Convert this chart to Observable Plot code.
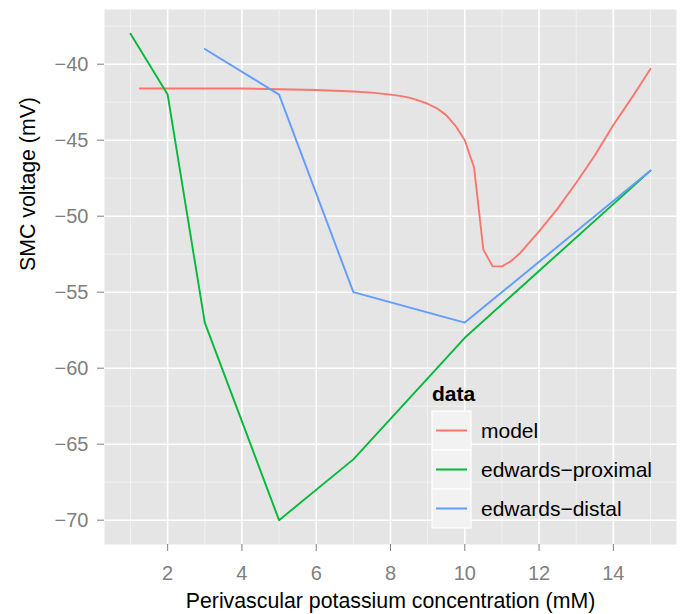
<!DOCTYPE html>
<html><head><meta charset="utf-8">
<script src="https://cdn.jsdelivr.net/npm/d3@7"></script>
<script src="https://cdn.jsdelivr.net/npm/@observablehq/plot@0.6"></script>
<style>
body{margin:0;background:white;font-family:"Liberation Sans",Arial,Helvetica,sans-serif}
#wrap{position:relative;width:681px;height:614px}
#legend{position:absolute;left:0;top:0;pointer-events:none}
</style></head><body><div id="wrap"></div>
<script>
const series = ["model", "edwards-proximal", "edwards-distal"];
const seriesLabels = ["model", "edwards\u2212proximal", "edwards\u2212distal"];
const colors = ["#F8766D", "#00BA38", "#619CFF"];

const modelX = [1.25, 2, 3, 4, 5, 6, 7, 7.5, 8, 8.25, 8.5, 8.75, 9, 9.25, 9.5, 9.75, 10, 10.25, 10.5, 10.75, 11, 11.25, 11.5, 12, 12.5, 13, 13.5, 14, 14.5, 15];
const modelY = [-41.6, -41.6, -41.6, -41.6, -41.65, -41.7, -41.8, -41.87, -42.0, -42.08, -42.2, -42.38, -42.6, -42.9, -43.35, -44.05, -45.0, -46.8, -52.2, -53.3, -53.3, -52.95, -52.4, -51.0, -49.5, -47.8, -46.0, -44.0, -42.2, -40.3];
const proximalX = [1, 2, 3, 5, 7, 10, 15];
const proximalY = [-38, -42, -57, -70, -66, -58, -47];
const distalX = [3, 5, 7, 10, 15];
const distalY = [-39, -42, -55, -57, -47];

const xTicks = [2, 4, 6, 8, 10, 12, 14];
const xMinor = [1, 3, 5, 7, 9, 11, 13, 15];
const yTicks = [-40, -45, -50, -55, -60, -65, -70];
const yMinor = [-37.5, -42.5, -47.5, -52.5, -57.5, -62.5, -67.5];

const xLabel = "Perivascular potassium concentration (mM)";
const yLabel = "SMC voltage (mV)";
const legendTitle = "data";

const rows = [];
[[modelX, modelY], [proximalX, proximalY], [distalX, distalY]].forEach(([xs, ys], i) => {
  xs.forEach((x, j) => rows.push({series: series[i], x, y: ys[j]}));
});

const fmt = d3.format("d");

const chart = Plot.plot({
  width: 681,
  height: 614,
  marginLeft: 104,
  marginRight: 5,
  marginTop: 9,
  marginBottom: 70,
  style: {fontFamily: "'Liberation Sans', Arial, Helvetica, sans-serif", background: "white"},
  x: {domain: [0.3, 15.7]},
  y: {domain: [-71.6, -36.4]},
  color: {domain: series, range: colors},
  marks: [
    Plot.frame({fill: "#e5e5e5", stroke: "none"}),
    Plot.gridX(xMinor, {stroke: "#f2f2f2", strokeOpacity: 1, strokeWidth: 1}),
    Plot.gridY(yMinor, {stroke: "#f2f2f2", strokeOpacity: 1, strokeWidth: 1}),
    Plot.gridX(xTicks, {stroke: "white", strokeOpacity: 1, strokeWidth: 1.6}),
    Plot.gridY(yTicks, {stroke: "white", strokeOpacity: 1, strokeWidth: 1.6}),
    Plot.axisX(xTicks, {tickSize: 7, tickPadding: 14, fontSize: 20, color: "#7f7f7f", label: null, tickFormat: fmt}),
    Plot.axisY(yTicks, {tickSize: 7, tickPadding: 9, fontSize: 20, color: "#7f7f7f", label: null, tickFormat: fmt}),
    Plot.text([xLabel], {frameAnchor: "bottom", text: d => d, dy: 57, lineAnchor: "middle", fontSize: 21.3, fill: "black"}),
    Plot.text([yLabel], {frameAnchor: "left", text: d => d, rotate: -90, dx: -76, dy: -6, lineAnchor: "middle", fontSize: 21.3, fill: "black"}),
    Plot.line(rows, {x: "x", y: "y", z: "series", stroke: "series", strokeWidth: 1.9})
  ]
});
document.getElementById("wrap").append(chart);

// legend overlay (inside panel, as in the reference)
const leg = d3.select("#wrap").append("svg")
  .attr("id", "legend").attr("width", 681).attr("height", 614)
  .style("font-family", "'Liberation Sans', Arial, Helvetica, sans-serif");
leg.append("text").attr("x", 432).attr("y", 401).attr("font-size", 21).attr("font-weight", "bold").attr("fill", "black").text(legendTitle);
series.forEach((s, i) => {
  const top = 411 + i * 39;
  leg.append("rect").attr("x", 432).attr("y", top).attr("width", 39).attr("height", 39)
    .attr("fill", "#f2f2f2").attr("stroke", "white").attr("stroke-width", 1.2);
  leg.append("line").attr("x1", 436).attr("x2", 467).attr("y1", top + 19.5).attr("y2", top + 19.5)
    .attr("stroke", colors[i]).attr("stroke-width", 2);
  leg.append("text").attr("x", 481).attr("y", top + 19.5).attr("dy", "0.35em").attr("font-size", 21).attr("fill", "black").text(seriesLabels[i]);
});
</script>
</body></html>
